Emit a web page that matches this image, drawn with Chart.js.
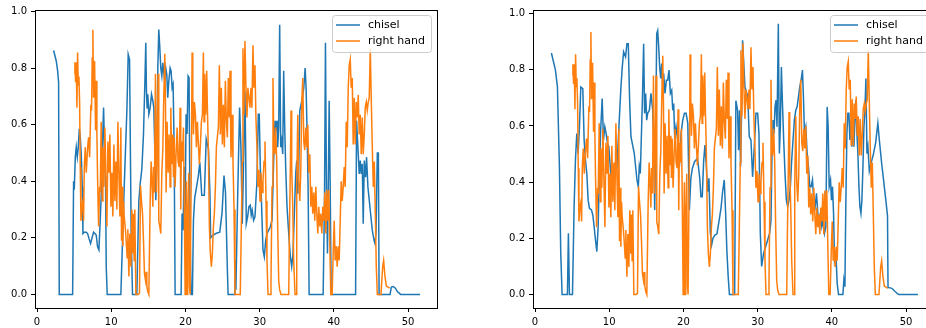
<!DOCTYPE html>
<html>
<head>
<meta charset="utf-8">
<script src="https://cdn.jsdelivr.net/npm/chart.js@4/dist/chart.umd.min.js"></script>
<style>
    html, body { margin: 0; padding: 0; background: #fff; overflow: hidden; width: 926px; height: 328px; }
    canvas { position: absolute; top: 0; }
    #chart-left { left: 0; }
    #chart-right { left: 498px; }
</style>
</head>
<body>
<canvas id="chart-left" width="445" height="328"></canvas>
<canvas id="chart-right" width="445" height="328"></canvas>
<script>
const xTicks = [0, 10, 20, 30, 40, 50];
const yTicks = [0, 0.2, 0.4, 0.6, 0.8, 1.0];
const seriesLabels = ['chisel', 'right hand'];

// right hand (same in both panels)
const handX = [
    5.02, 5.11, 5.2, 5.29, 5.38, 5.47, 5.56, 5.65, 5.74, 5.83, 5.92, 6.05, 6.19, 6.28, 6.37, 6.5, 6.64, 6.82, 6.95, 7.09,
    7.26, 7.35, 7.44, 7.53, 7.62, 7.76, 7.89, 7.98, 8.07, 8.16, 8.3, 8.43, 8.52, 8.65, 8.79, 8.88, 9.01, 9.15, 9.28, 9.42,
    9.55, 9.69, 9.82, 9.96, 10.09, 10.22, 10.36, 10.49, 10.63, 10.76, 10.9, 11.03, 11.17, 11.3, 11.39, 11.48, 11.57, 11.66, 11.75, 11.88,
    12.02, 12.15, 12.24, 12.38, 12.51, 12.65, 12.78, 12.91, 13.0, 13.09, 13.18, 13.32, 13.45, 13.63, 13.81, 13.95, 14.08, 14.22, 14.35, 14.48,
    14.62, 14.71, 14.8, 14.93, 15.07, 15.25, 15.38, 15.52, 15.61, 15.7, 15.83, 15.96, 16.1, 16.19, 16.32, 16.41, 16.55, 16.68, 16.82, 16.95,
    17.09, 17.22, 17.31, 17.4, 17.53, 17.67, 17.8, 17.94, 18.03, 18.16, 18.3, 18.39, 18.48, 18.61, 18.74, 18.88, 19.01, 19.15, 19.28, 19.37,
    19.46, 19.6, 19.73, 19.82, 19.96, 20.04, 20.13, 20.22, 20.31, 20.45, 20.54, 20.63, 20.72, 20.81, 20.9, 20.99, 21.08, 21.21, 21.35, 21.48,
    21.61, 21.75, 21.88, 22.02, 22.15, 22.29, 22.42, 22.51, 22.6, 22.74, 22.87, 22.96, 23.09, 23.23, 23.36, 23.5, 23.63, 23.77, 23.9, 24.04,
    24.17, 24.3, 24.44, 24.57, 24.71, 24.84, 24.98, 25.11, 25.25, 25.38, 25.52, 25.65, 25.78, 25.92, 26.01, 26.14, 26.28, 26.41, 26.55, 26.68,
    27.39, 27.52, 27.66, 27.75, 27.88, 28.02, 28.15, 28.29, 28.42, 28.56, 28.69, 28.83, 28.96, 29.1, 29.23, 29.37, 29.5, 29.64, 29.77, 29.91,
    30.05, 30.18, 30.32, 30.45, 30.59, 30.72, 30.86, 30.99, 31.13, 31.44, 31.53, 31.67, 31.8, 31.89, 32.03, 32.16, 32.3, 32.43, 32.57, 32.7,
    32.88, 33.92, 34.01, 34.14, 34.23, 34.32, 34.46, 34.59, 34.77, 34.91, 35.0, 35.14, 35.27, 35.41, 35.54, 35.68, 35.81, 35.95, 36.08, 36.22,
    36.35, 36.49, 36.62, 36.76, 36.89, 37.03, 37.16, 37.3, 37.43, 37.57, 37.7, 37.84, 37.97, 38.11, 38.24, 38.38, 38.51, 38.65, 38.78, 38.92,
    39.05, 39.19, 39.32, 39.46, 39.59, 39.77, 39.91, 40.05, 40.18, 40.32, 40.45, 40.59, 40.72, 40.86, 40.99, 41.13, 41.26, 41.4, 41.53, 41.67,
    41.8, 41.94, 42.07, 42.21, 42.34, 42.48, 42.61, 42.75, 42.88, 43.02, 43.15, 43.29, 43.42, 43.56, 43.69, 43.83, 43.96, 44.1, 44.23, 44.37,
    44.5, 44.64, 44.77, 44.91, 45.05, 45.18, 45.32, 45.45, 45.59, 45.72, 45.86, 46.35, 46.58, 46.71, 46.89, 47.07, 47.3, 47.52,
];
const handY = [
    0.78, 0.82, 0.75, 0.82, 0.66, 0.855, 0.74, 0.77, 0.68, 0.45, 0.26, 0.31, 0.33, 0.26, 0.45, 0.52, 0.43, 0.52, 0.555, 0.485,
    0.67, 0.65, 0.835, 0.935, 0.695, 0.825, 0.58, 0.755, 0.565, 0.415, 0.24, 0.38, 0.36, 0.61, 0.33, 0.52, 0.38, 0.59, 0.415, 0.24,
    0.54, 0.43, 0.565, 0.31, 0.43, 0.275, 0.53, 0.33, 0.47, 0.3, 0.61, 0.43, 0.275, 0.59, 0.19, 0.38, 0.17, 0.33, 0.275, 0.24,
    0.19, 0.13, 0.23, 0.063, 0.215, 0.098, 0.3, 0.145, 0.285, 0.12, 0.3, 0, 0, 0, 0.005, 0.385, 0.33, 0.285, 0.19, 0.075,
    0.05, 0.08, 0.03, 0.01, 0, 0.33, 0.47, 0.38, 0.31, 0.45, 0.36, 0.78, 0.36, 0.52, 0.78, 0.26, 0.24, 0.215, 0.43, 0.51,
    0.705, 0.85, 0.68, 0.36, 0.61, 0.43, 0.565, 0.38, 0.66, 0.46, 0.565, 0.415, 0.555, 0.38, 0.495, 0.59, 0.47, 0.45, 0.66, 0.3,
    0.54, 0.47, 0.59, 0.4, 0, 0.215, 0.4, 0, 0.26, 0.43, 0.03, 0, 0, 0.495, 0.855, 0.705, 0.565, 0.68, 0.635, 0.52,
    0.61, 0.53, 0.46, 0.53, 0.61, 0.635, 0.855, 0.61, 0.78, 0.635, 0.79, 0.66, 0.51, 0.24, 0.145, 0.098, 0.145, 0.24, 0.285, 0.38,
    0.52, 0.555, 0.59, 0.81, 0.565, 0.73, 0.53, 0.67, 0.52, 0.755, 0.61, 0.555, 0.765, 0.625, 0.79, 0.485, 0.635, 0.47, 0.3, 0,
    0, 0.215, 0.47, 0.87, 0.635, 0.895, 0.74, 0.625, 0.73, 0.695, 0.66, 0.73, 0.66, 0.88, 0.73, 0.81, 0.625, 0.52, 0.38, 0.44,
    0.33, 0.43, 0.36, 0.4, 0.47, 0.54, 0.33, 0.12, 0, 0, 0.05, 0.38, 0.765, 0.565, 0.495, 0.59, 0.47, 0.24, 0.05, 0.016,
    0, 0, 0.215, 0.45, 0.65, 0.45, 0.31, 0.12, 0, 0, 0.39, 0.635, 0.4, 0.33, 0.43, 0.68, 0.765, 0.54, 0.51, 0.59,
    0.52, 0.6, 0.43, 0.495, 0.31, 0.38, 0.285, 0.36, 0.26, 0.38, 0.285, 0.215, 0.31, 0.24, 0.285, 0.215, 0.31, 0.26, 0.36, 0.215,
    0.37, 0.26, 0.37, 0.17, 0, 0, 0.145, 0.26, 0.12, 0.17, 0.098, 0.17, 0.12, 0.26, 0.4, 0.33, 0.38, 0.45, 0.38, 0.61,
    0.52, 0.73, 0.81, 0.83, 0.73, 0.765, 0.53, 0.695, 0.53, 0.68, 0.625, 0.705, 0.565, 0.635, 0.495, 0.625, 0.495, 0.565, 0.66, 0.68,
    0.65, 0.68, 0.695, 0.87, 0.68, 0.52, 0.38, 0.47, 0.285, 0.098, 0, 0, 0.098, 0.12, 0.063, 0.03, 0.026, 0.022,
];

// chisel, left panel
const chiselLeftX = [
    2.24, 2.6, 2.78, 2.91, 3.0, 4.8, 4.93, 5.02, 5.16, 5.29, 5.43, 5.56, 5.7, 5.83, 5.96, 6.1, 6.19, 6.37, 6.64, 6.82,
    7.0, 7.22, 7.4, 7.62, 7.8, 7.98, 8.16, 8.34, 8.52, 8.7, 8.88, 8.97, 9.1, 9.24, 9.33, 9.46, 11.3, 11.75, 12.11, 12.29,
    12.47, 12.69, 12.87, 13.45, 13.72, 13.9, 14.13, 14.35, 14.53, 14.66, 14.75, 14.84, 14.93, 15.07, 15.25, 15.43, 15.61, 15.74, 15.87, 16.01,
    16.14, 16.28, 16.41, 16.55, 16.68, 16.82, 16.95, 17.09, 17.22, 17.35, 17.49, 17.62, 17.76, 17.94, 18.07, 18.21, 18.34, 18.48, 18.61, 19.42,
    19.55, 19.69, 19.82, 19.96, 20.09, 20.22, 20.36, 20.49, 20.63, 20.76, 20.94, 21.08, 21.25, 21.5, 21.75, 21.94, 22.2, 22.55, 22.8, 23.1,
    23.3, 23.4, 23.73, 24.17, 24.63, 24.94, 25.2, 25.4, 25.66, 25.75, 26.56, 26.67, 26.8, 27.03, 27.3, 27.48, 27.66, 27.84, 28.02, 28.11,
    28.2, 28.38, 28.56, 28.74, 28.87, 29.0, 29.19, 29.37, 29.64, 29.82, 29.95, 30.09, 30.27, 30.45, 30.63, 30.81, 30.99, 31.22, 31.44, 31.67,
    31.89, 32.07, 32.21, 32.34, 32.43, 32.57, 32.7, 32.84, 32.97, 33.11, 33.24, 33.38, 33.51, 33.69, 33.92, 34.14, 34.32, 34.5, 34.68, 34.86,
    35.0, 35.14, 35.27, 35.41, 35.59, 35.77, 35.95, 36.13, 36.26, 36.4, 36.53, 36.67, 38.56, 38.74, 38.87, 39.01, 39.14, 39.28, 39.37, 39.5,
    39.64, 42.93, 43.06, 43.24, 43.42, 43.56, 43.69, 43.83, 43.96, 44.1, 44.28, 44.41, 44.59, 44.77, 44.95, 45.18, 45.41, 45.54, 45.68, 45.86,
    46.0, 46.1, 47.57, 47.75, 48.02, 48.29, 48.56, 49.0, 51.62,
];
const chiselLeftY = [
    0.862, 0.824, 0.79, 0.75, 0, 0, 0.4, 0.37, 0.485, 0.52, 0.485, 0.52, 0.585, 0.555, 0.495, 0.38, 0.215, 0.22, 0.22, 0.215,
    0.198, 0.18, 0.198, 0.22, 0.215, 0.21, 0.168, 0.157, 0.262, 0.38, 0.578, 0.66, 0.52, 0.38, 0.098, 0, 0, 0.38, 0.65, 0.848,
    0.83, 0.215, 0, 0, 0.33, 0.39, 0.444, 0.567, 0.742, 0.889, 0.719, 0.66, 0.707, 0.637, 0.66, 0.707, 0.684, 0.66, 0.52, 0.333,
    0.473, 0.8, 0.936, 0.871, 0.8, 0.772, 0.818, 0.783, 0.754, 0.8, 0.777, 0.695, 0.754, 0.8, 0.79, 0.73, 0.742, 0.52, 0, 0,
    0.286, 0.227, 0.45, 0.286, 0.637, 0.567, 0.772, 0.766, 0.215, 0, 0, 0.262, 0.34, 0.38, 0.42, 0.467, 0.35, 0.35, 0.549, 0.514,
    0.36, 0.2, 0.21, 0.216, 0.22, 0.29, 0.42, 0.36, 0.08, 0, 0, 0.12, 0.016, 0.333, 0.66, 0.52, 0.25, 0.473, 0.72, 0.53,
    0.25, 0.274, 0.31, 0.315, 0.28, 0.297, 0.262, 0.274, 0.4, 0.637, 0.637, 0.45, 0.31, 0.157, 0.133, 0.19, 0.215, 0.227, 0.239, 0.262,
    0.473, 0.614, 0.59, 0.614, 0.52, 0.59, 0.953, 0.52, 0.543, 0.496, 0.79, 0.59, 0.45, 0.31, 0.215, 0.133, 0.098, 0.145, 0.286, 0.426,
    0.473, 0.356, 0.45, 0.649, 0.672, 0.696, 0.73, 0.8, 0.73, 0.567, 0.38, 0, 0, 0.333, 0.889, 0.356, 0.145, 0.45, 0.684, 0.403,
    0, 0, 0.614, 0.52, 0.426, 0.473, 0.426, 0.461, 0.25, 0.473, 0.414, 0.485, 0.38, 0.333, 0.286, 0.227, 0.192, 0.18, 0.215, 0.5,
    0.5, 0, 0, 0.026, 0.028, 0.022, 0.01, 0, 0,
];

// chisel, right panel
const chiselRightX = [
    2.21, 2.75, 3.02, 3.29, 3.47, 3.65, 4.37, 4.5, 4.64, 5.05, 5.27, 5.45, 5.63, 5.81, 5.99, 6.17, 6.44, 6.62, 6.8, 6.98,
    7.16, 7.34, 7.61, 7.79, 7.97, 8.15, 8.33, 8.51, 8.69, 8.87, 9.05, 9.23, 9.41, 9.59, 9.77, 9.95, 10.14, 10.32, 10.5, 10.68,
    10.86, 11.04, 11.22, 11.4, 11.58, 11.76, 11.94, 12.2, 12.39, 12.57, 12.75, 12.93, 13.2, 13.38, 13.56, 13.74, 13.92, 14.05, 14.19, 14.32,
    14.46, 14.64, 14.77, 14.91, 15.05, 15.18, 15.41, 15.63, 15.86, 15.99, 16.13, 16.26, 16.4, 16.53, 16.67, 16.8, 16.94, 17.07, 17.21, 17.34,
    17.52, 17.7, 17.88, 18.06, 18.24, 18.42, 18.56, 18.69, 18.83, 19.01, 19.23, 19.46, 19.68, 19.91, 20.14, 20.36, 20.59, 20.8, 21.0, 21.2,
    21.5, 21.9, 22.2, 22.36, 22.54, 22.72, 22.9, 23.08, 23.26, 23.44, 23.62, 23.8, 23.98, 24.25, 24.52, 24.79, 25.06, 25.28, 25.5, 25.68,
    25.86, 26.04, 26.2, 26.9, 27.07, 27.3, 27.43, 27.57, 27.7, 27.84, 27.97, 28.11, 28.29, 28.42, 28.56, 28.69, 28.87, 29.1, 29.32, 29.55,
    29.77, 30.0, 30.18, 30.36, 30.54, 30.81, 31.08, 31.35, 31.62, 31.8, 31.94, 32.07, 32.21, 32.34, 32.48, 32.61, 32.79, 32.93, 33.06, 33.2,
    33.33, 33.51, 33.69, 33.87, 34.05, 34.23, 34.41, 34.59, 34.77, 34.95, 35.14, 35.32, 35.5, 35.68, 35.86, 36.04, 36.17, 36.31, 36.49, 36.67,
    36.85, 37.03, 37.21, 37.39, 37.57, 37.75, 37.93, 38.11, 38.29, 38.47, 38.65, 38.83, 39.01, 39.19, 39.37, 39.5, 39.64, 39.82, 39.95, 40.09,
    40.23, 40.36, 40.54, 40.72, 40.9, 41.49, 41.62, 41.76, 41.89, 42.03, 42.16, 42.3, 42.43, 42.57, 42.7, 42.84, 42.97, 43.11, 43.24, 43.38,
    43.51, 43.65, 43.78, 43.92, 44.05, 44.19, 44.32, 44.46, 44.59, 44.73, 44.86, 45.05, 45.3, 45.6, 45.9, 46.2, 46.4, 46.7, 47.0, 47.3,
    47.5, 47.57, 48.1, 48.55, 49.0, 51.6,
];
const chiselRightY = [
    0.86, 0.8, 0.74, 0.455, 0.147, 0, 0, 0.218, 0, 0, 0.313, 0.479, 0.573, 0.502, 0.597, 0.739, 0.733, 0.55, 0.479, 0.431,
    0.336, 0.307, 0.301, 0.283, 0.242, 0.194, 0.153, 0.242, 0.455, 0.597, 0.698, 0.55, 0.597, 0.573, 0.538, 0.526, 0.455, 0.384, 0.431, 0.408,
    0.431, 0.455, 0.55, 0.645, 0.739, 0.81, 0.864, 0.846, 0.893, 0.893, 0.692, 0.562, 0.526, 0.502, 0.455, 0.408, 0.384, 0.455, 0.431, 0.55,
    0.68, 0.893, 0.645, 0.716, 0.621, 0.645, 0.656, 0.716, 0.656, 0.55, 0.301, 0.573, 0.929, 0.94, 0.881, 0.81, 0.769, 0.822, 0.739, 0.787,
    0.716, 0.763, 0.763, 0.799, 0.716, 0.727, 0.656, 0.68, 0.55, 0.597, 0.55, 0.455, 0.573, 0.621, 0.645, 0.645, 0.609, 0.3, 0.414, 0.449,
    0.473, 0.485, 0.414, 0.348, 0.348, 0.473, 0.532, 0.461, 0.366, 0.414, 0.224, 0.177, 0.2, 0.212, 0.216, 0.26, 0.307, 0.366, 0.408, 0.295,
    0.153, 0.06, 0, 0, 0.69, 0.656, 0.514, 0.656, 0.455, 0.656, 0.905, 0.834, 0.739, 0.727, 0.716, 0.692, 0.562, 0.55, 0.419, 0.526,
    0.645, 0.645, 0.573, 0.218, 0.1, 0.147, 0.171, 0.194, 0.218, 0.265, 0.514, 0.621, 0.573, 0.668, 0.692, 0.597, 0.964, 0.502, 0.597, 0.81,
    0.692, 0.55, 0.431, 0.336, 0.313, 0.336, 0.384, 0.479, 0.55, 0.621, 0.656, 0.668, 0.704, 0.739, 0.763, 0.799, 0.704, 0.573, 0.597, 0.502,
    0.455, 0.384, 0.384, 0.408, 0.336, 0.313, 0.36, 0.289, 0.265, 0.289, 0.242, 0.265, 0.218, 0.242, 0.668, 0.597, 0.384, 0.408, 0.336, 0.384,
    0.289, 0.123, 0.147, 0.04, 0, 0, 0.052, 0.028, 0.336, 0.573, 0.645, 0.645, 0.55, 0.621, 0.526, 0.621, 0.526, 0.621, 0.692, 0.573,
    0.502, 0.384, 0.313, 0.289, 0.336, 0.455, 0.597, 0.656, 0.769, 0.502, 0.526, 0.44, 0.47, 0.5, 0.54, 0.61, 0.55, 0.47, 0.4, 0.33,
    0.28, 0.025, 0.022, 0.01, 0, 0,
];

const chiselColor = '#1f77b4';
const handColor = '#ff7f0e';

function toPoints(xs, ys) {
    return xs.map((x, i) => ({ x: x, y: ys[i] }));
}

// matplotlib style frame and legend drawn inside the axes
const framePlugin = {
    id: 'frame',
    afterDraw(chart) {
        const ctx = chart.ctx;
        const area = chart.chartArea;
        ctx.save();
        ctx.strokeStyle = '#000';
        ctx.lineWidth = 1;
        ctx.strokeRect(
            Math.round(area.left) + 0.5,
            Math.round(area.top) + 0.5,
            Math.round(area.right - area.left),
            Math.round(area.bottom - area.top),
        );

        const boxW = 99;
        const boxH = 37;
        const boxX = area.right - 6 - boxW;
        const boxY = area.top + 5;
        ctx.beginPath();
        ctx.roundRect(boxX + 0.5, boxY + 0.5, boxW, boxH, 3);
        ctx.fillStyle = 'rgba(255,255,255,0.8)';
        ctx.fill();
        ctx.strokeStyle = '#cccccc';
        ctx.stroke();

        const colors = [chiselColor, handColor];
        ctx.font = '11px "DejaVu Sans"';
        ctx.textBaseline = 'middle';
        seriesLabels.forEach((label, i) => {
            const rowY = boxY + 10 + i * 16;
            ctx.strokeStyle = colors[i];
            ctx.lineWidth = 1.5;
            ctx.beginPath();
            ctx.moveTo(boxX + 4, rowY);
            ctx.lineTo(boxX + 28, rowY);
            ctx.stroke();
            ctx.fillStyle = '#000';
            ctx.fillText(label, boxX + 36, rowY);
        });
        ctx.restore();
    },
};

function makeChart(canvasId, chiselX, chiselY, yMax) {
    const tickFont = { family: 'DejaVu Sans', size: 10 };
    return new Chart(document.getElementById(canvasId), {
        type: 'line',
        data: {
            datasets: [
                {
                    label: seriesLabels[0],
                    data: toPoints(chiselX, chiselY),
                    borderColor: chiselColor,
                    borderWidth: 1.5,
                    pointRadius: 0,
                    tension: 0,
                    order: 1,
                },
                {
                    label: seriesLabels[1],
                    data: toPoints(handX, handY),
                    borderColor: handColor,
                    borderWidth: 1.5,
                    pointRadius: 0,
                    tension: 0,
                    order: 0,
                },
            ],
        },
        options: {
            responsive: false,
            animation: false,
            devicePixelRatio: 1,
            layout: { padding: { top: 9, right: 8, left: 0, bottom: 0 } },
            plugins: {
                legend: { display: false },
                tooltip: { enabled: false },
            },
            scales: {
                x: {
                    type: 'linear',
                    min: -0.27,
                    max: 53.9,
                    afterBuildTicks: (axis) => {
                        axis.ticks = xTicks.map((v) => ({ value: v }));
                    },
                    afterFit: (axis) => {
                        axis.height = 20;
                    },
                    ticks: {
                        autoSkip: false,
                        maxRotation: 0,
                        padding: 4,
                        color: '#000',
                        font: tickFont,
                        callback: (value) => String(value),
                    },
                    grid: {
                        drawOnChartArea: false,
                        drawTicks: true,
                        tickLength: 4,
                        tickColor: '#000',
                    },
                    border: { display: false },
                },
                y: {
                    type: 'linear',
                    min: -0.048,
                    max: yMax,
                    afterBuildTicks: (axis) => {
                        axis.ticks = yTicks.map((v) => ({ value: v }));
                    },
                    afterFit: (axis) => {
                        axis.width = 35;
                    },
                    ticks: {
                        autoSkip: false,
                        padding: 4,
                        color: '#000',
                        font: tickFont,
                        callback: (value) => value.toFixed(1),
                    },
                    grid: {
                        drawOnChartArea: false,
                        drawTicks: true,
                        tickLength: 4,
                        tickColor: '#000',
                    },
                    border: { display: false },
                },
            },
        },
        plugins: [framePlugin],
    });
}

makeChart('chart-left', chiselLeftX, chiselLeftY, 1.005);
makeChart('chart-right', chiselRightX, chiselRightY, 1.013);
</script>
</body>
</html>
